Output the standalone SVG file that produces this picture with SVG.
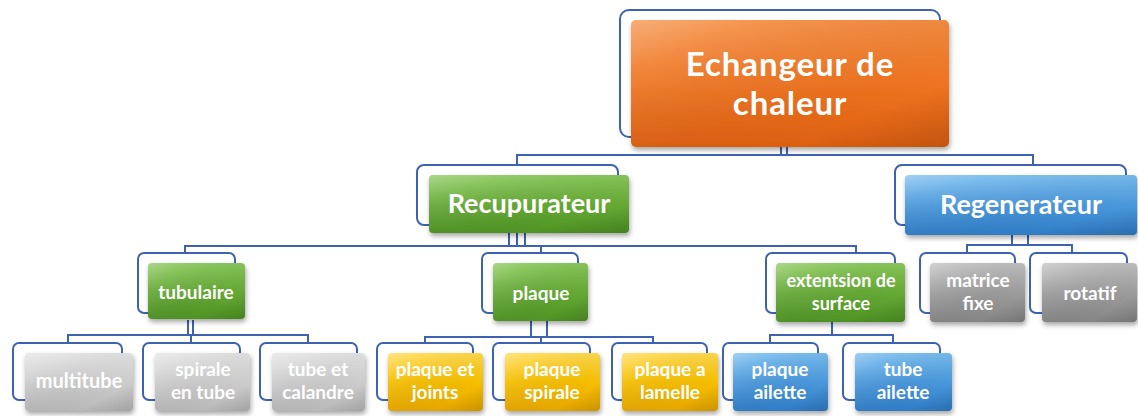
<svg xmlns="http://www.w3.org/2000/svg" width="1138" height="416" viewBox="0 0 1138 416">
<defs>
<linearGradient id="gOr" x1="0" y1="0" x2="0" y2="1"><stop offset="0" stop-color="#f48a3c"/><stop offset="0.5" stop-color="#ef7421"/><stop offset="1" stop-color="#dd6010"/></linearGradient>
<linearGradient id="gGr" x1="0" y1="0" x2="0" y2="1"><stop offset="0" stop-color="#86c657"/><stop offset="0.5" stop-color="#66aa36"/><stop offset="1" stop-color="#4f9324"/></linearGradient>
<linearGradient id="gBl" x1="0" y1="0" x2="0" y2="1"><stop offset="0" stop-color="#74bbee"/><stop offset="0.5" stop-color="#4a98dc"/><stop offset="1" stop-color="#2f7dc6"/></linearGradient>
<linearGradient id="gGo" x1="0" y1="0" x2="0" y2="1"><stop offset="0" stop-color="#ffd84a"/><stop offset="0.5" stop-color="#f6bf00"/><stop offset="1" stop-color="#e6a600"/></linearGradient>
<linearGradient id="gLg" x1="0" y1="0" x2="0" y2="1"><stop offset="0" stop-color="#e2e2e2"/><stop offset="0.5" stop-color="#cdcdcd"/><stop offset="1" stop-color="#b8b8b8"/></linearGradient>
<linearGradient id="gDg" x1="0" y1="0" x2="0" y2="1"><stop offset="0" stop-color="#bdbdbd"/><stop offset="0.5" stop-color="#9d9d9d"/><stop offset="1" stop-color="#858585"/></linearGradient>
<linearGradient id="gHi" x1="0" y1="0" x2="1" y2="1"><stop offset="0" stop-color="#ffffff" stop-opacity="0.3"/><stop offset="0.2" stop-color="#ffffff" stop-opacity="0.1"/><stop offset="0.75" stop-color="#000000" stop-opacity="0"/><stop offset="1" stop-color="#000000" stop-opacity="0.12"/></linearGradient>
<filter id="sh" x="-10%" y="-10%" width="125%" height="135%"><feDropShadow dx="1" dy="3" stdDeviation="2.5" flood-color="#000" flood-opacity="0.35"/></filter>
<style>
.br{fill:none;stroke:#3d62b0;stroke-width:2}
.bx{filter:url(#sh)}
.hi{fill:url(#gHi)}
.or{fill:url(#gOr)}.gr{fill:url(#gGr)}.bl{fill:url(#gBl)}.go{fill:url(#gGo)}.lg{fill:url(#gLg)}.dg{fill:url(#gDg)}
.cn{fill:none;stroke:#3d62b0;stroke-width:2}
text{font-family:Lato,"Liberation Sans",Arial,sans-serif;font-weight:bold;fill:#ffffff;text-anchor:middle}
.t0{font-size:33px;letter-spacing:0.9px}.t1{font-size:27px}.t2{font-size:19px}.t3{font-size:19px}.t4{font-size:18px}
</style>
</defs>
<rect width="1138" height="416" fill="#ffffff"/>
<g id="connectors">
<path class="cn" d="M781 147V155M787 147V155M517 165V155H1033V165"/>
<path class="cn" d="M509 233V246M517 233V246M525 233V246M185 253V246H856V253M541 246V253"/>
<path class="cn" d="M1012 235V245M1028 235V245M967 253V245H1072V253"/>
<path class="cn" d="M188 320V335M193 320V335M68 343V335H308V343M191 335V343"/>
<path class="cn" d="M531 320V337M547 320V337M425 343V337H653V343M541 337V343"/>
<path class="cn" d="M832 322V335M770 343V335H893V343"/>
</g>
<g id="n-echangeur">
<rect class="br" x="620" y="10" width="320" height="127" rx="9"/>
<rect class="bx or" x="631" y="20" width="318" height="127" rx="5"/>
<rect class="hi" x="631" y="20" width="318" height="127" rx="5"/>
<text class="t0" x="790" y="76">Echangeur de</text>
<text class="t0" x="790" y="115">chaleur</text>
</g>
<g id="n-recupurateur">
<rect class="br" x="417" y="165" width="201" height="60" rx="7"/>
<rect class="bx gr" x="429" y="175" width="200" height="58" rx="4"/>
<rect class="hi" x="429" y="175" width="200" height="58" rx="4"/>
<text class="t1" x="529" y="213">Recupurateur</text>
</g>
<g id="n-regenerateur">
<rect class="br" x="895" y="165" width="231" height="60" rx="7"/>
<rect class="bx bl" x="905" y="175" width="232" height="60" rx="4"/>
<rect class="hi" x="905" y="175" width="232" height="60" rx="4"/>
<text class="t1" x="1021" y="214">Regenerateur</text>
</g>
<g id="n-tubulaire">
<rect class="br" x="138" y="253" width="97" height="60" rx="6"/>
<rect class="bx gr" x="148" y="263" width="97" height="56" rx="4"/>
<rect class="hi" x="148" y="263" width="97" height="56" rx="4"/>
<text class="t2" x="196" y="299">tubulaire</text>
</g>
<g id="n-plaque">
<rect class="br" x="482" y="253" width="96" height="60" rx="6"/>
<rect class="bx gr" x="493" y="263" width="95" height="58" rx="4"/>
<rect class="hi" x="493" y="263" width="95" height="58" rx="4"/>
<text class="t2" x="541" y="300">plaque</text>
</g>
<g id="n-extension">
<rect class="br" x="766" y="253" width="129" height="60" rx="6"/>
<rect class="bx gr" x="776" y="263" width="129" height="59" rx="4"/>
<rect class="hi" x="776" y="263" width="129" height="59" rx="4"/>
<text class="t4" x="841" y="287">extentsion de</text>
<text class="t4" x="841" y="310">surface</text>
</g>
<g id="n-matrice">
<rect class="br" x="920" y="253" width="95" height="60" rx="6"/>
<rect class="bx dg" x="930" y="263" width="95" height="59" rx="4"/>
<rect class="hi" x="930" y="263" width="95" height="59" rx="4"/>
<text class="t2" x="978" y="287">matrice</text>
<text class="t2" x="978" y="310">fixe</text>
</g>
<g id="n-rotatif">
<rect class="br" x="1030" y="253" width="97" height="60" rx="6"/>
<rect class="bx dg" x="1042" y="263" width="95" height="59" rx="4"/>
<rect class="hi" x="1042" y="263" width="95" height="59" rx="4"/>
<text class="t2" x="1090" y="300">rotatif</text>
</g>
<g id="n-multitube">
<rect class="br" x="13" y="343" width="109" height="57" rx="6"/>
<rect class="bx lg" x="25" y="353" width="108" height="58" rx="4"/>
<rect class="hi" x="25" y="353" width="108" height="58" rx="4"/>
<text class="t3" x="79" y="388" style="font-size:20px">multitube</text>
</g>
<g id="n-spirale">
<rect class="br" x="143" y="343" width="97" height="57" rx="6"/>
<rect class="bx lg" x="155" y="353" width="95" height="58" rx="4"/>
<rect class="hi" x="155" y="353" width="95" height="58" rx="4"/>
<text class="t3" x="203" y="376">spirale</text>
<text class="t3" x="203" y="399">en tube</text>
</g>
<g id="n-tube-calandre">
<rect class="br" x="260" y="343" width="97" height="57" rx="6"/>
<rect class="bx lg" x="272" y="353" width="93" height="58" rx="4"/>
<rect class="hi" x="272" y="353" width="93" height="58" rx="4"/>
<text class="t3" x="318" y="376">tube et</text>
<text class="t3" x="318" y="399">calandre</text>
</g>
<g id="n-plaque-joints">
<rect class="br" x="377" y="343" width="96" height="57" rx="6"/>
<rect class="bx go" x="388" y="353" width="95" height="58" rx="4"/>
<rect class="hi" x="388" y="353" width="95" height="58" rx="4"/>
<text class="t3" x="435" y="376">plaque et</text>
<text class="t3" x="435" y="399">joints</text>
</g>
<g id="n-plaque-spirale">
<rect class="br" x="493" y="343" width="97" height="57" rx="6"/>
<rect class="bx go" x="505" y="353" width="95" height="58" rx="4"/>
<rect class="hi" x="505" y="353" width="95" height="58" rx="4"/>
<text class="t3" x="552" y="376">plaque</text>
<text class="t3" x="552" y="399">spirale</text>
</g>
<g id="n-plaque-lamelle">
<rect class="br" x="612" y="343" width="95" height="57" rx="6"/>
<rect class="bx go" x="622" y="353" width="96" height="58" rx="4"/>
<rect class="hi" x="622" y="353" width="96" height="58" rx="4"/>
<text class="t3" x="670" y="376">plaque a</text>
<text class="t3" x="670" y="399">lamelle</text>
</g>
<g id="n-plaque-ailette">
<rect class="br" x="723" y="343" width="95" height="57" rx="6"/>
<rect class="bx bl" x="733" y="353" width="95" height="58" rx="4"/>
<rect class="hi" x="733" y="353" width="95" height="58" rx="4"/>
<text class="t3" x="780" y="376">plaque</text>
<text class="t3" x="780" y="399">ailette</text>
</g>
<g id="n-tube-ailette">
<rect class="br" x="843" y="343" width="97" height="57" rx="6"/>
<rect class="bx bl" x="855" y="353" width="97" height="58" rx="4"/>
<rect class="hi" x="855" y="353" width="97" height="58" rx="4"/>
<text class="t3" x="903" y="376">tube</text>
<text class="t3" x="903" y="399">ailette</text>
</g>
</svg>
